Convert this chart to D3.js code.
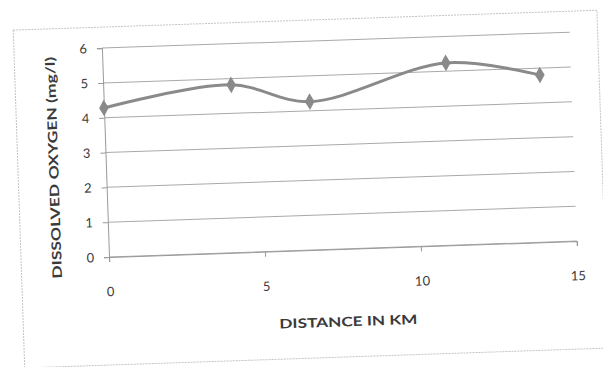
<!DOCTYPE html>
<html>
<head>
<meta charset="utf-8">
<script src="https://cdn.jsdelivr.net/npm/d3@7"></script>
<style>
  html, body { margin: 0; padding: 0; background: #fff; }
  svg { display: block; }
  text { font-family: Lato, "Open Sans", "DejaVu Sans", sans-serif; fill: #3a3a3a; }
</style>
</head>
<body>
<svg id="chart" width="603" height="367"></svg>
<script>
// Dissolved oxygen measured along the river
const distanceKm = [0, 4.1, 6.6, 11, 14];
const dissolvedOxygen = [4.28, 4.82, 4.26, 5.24, 4.8];
const xTicks = [0, 5, 10, 15];
const yTicks = [0, 1, 2, 3, 4, 5, 6];
const xTitle = "DISTANCE IN KM";
const yTitle = "DISSOLVED OXYGEN (mg/l)";

const W = 603, H = 367;
const plot = { left: 109, right: 577, top: 48, bottom: 257 };
const tilt = -1.95; // the sheet sits slightly askew

const svg = d3.select("#chart");
svg.append("rect").attr("width", W).attr("height", H).attr("fill", "#fff");

const g = svg.append("g")
  .attr("transform", `rotate(${tilt}, ${plot.left}, ${plot.bottom})`);

const x = d3.scaleLinear().domain([0, 15]).range([plot.left, plot.right]);
const y = d3.scaleLinear().domain([0, 6]).range([plot.bottom, plot.top]);

// chart frame
g.append("rect")
  .attr("x", 21).attr("y", 27)
  .attr("width", 584).attr("height", 338)
  .attr("fill", "none")
  .attr("stroke", "#c4c4c4")
  .attr("stroke-width", 1)
  .attr("stroke-dasharray", "2,1");

// horizontal gridlines
g.append("g")
  .selectAll("line")
  .data(yTicks)
  .join("line")
  .attr("x1", plot.left).attr("x2", plot.right)
  .attr("y1", d => y(d)).attr("y2", d => y(d))
  .attr("stroke", "#a9a9a9")
  .attr("stroke-width", 1);

// y axis
const yAxis = g.append("g")
  .attr("transform", `translate(${plot.left},0)`)
  .call(d3.axisLeft(y).tickValues(yTicks).tickFormat(d3.format("d")).tickSize(5).tickPadding(10));
yAxis.select(".domain").attr("stroke", "#999");
yAxis.selectAll(".tick line").attr("stroke", "#999");
yAxis.selectAll(".tick text").attr("font-size", 13).attr("fill", "#3a3a3a")
  .style("font-family", "Lato, 'Open Sans', sans-serif");

// x axis
const xAxis = g.append("g")
  .attr("transform", `translate(0,${plot.bottom})`)
  .call(d3.axisBottom(x).tickValues(xTicks).tickFormat(d3.format("d")).tickSize(5).tickPadding(25));
xAxis.select(".domain").attr("stroke", "#999");
xAxis.selectAll(".tick line").attr("stroke", "#999");
xAxis.selectAll(".tick text").attr("font-size", 13).attr("fill", "#3a3a3a")
  .style("font-family", "Lato, 'Open Sans', sans-serif");

// axis titles
g.append("text")
  .attr("x", 346).attr("y", 331)
  .attr("text-anchor", "middle")
  .attr("dominant-baseline", "middle")
  .attr("font-size", 13)
  .attr("font-weight", "bold")
  .attr("textLength", 138)
  .attr("lengthAdjust", "spacingAndGlyphs")
  .text(xTitle);

g.append("text")
  .attr("transform", "translate(58,166) rotate(-90)")
  .attr("text-anchor", "middle")
  .attr("dominant-baseline", "middle")
  .attr("font-size", 13)
  .attr("font-weight", "bold")
  .attr("textLength", 222)
  .attr("lengthAdjust", "spacingAndGlyphs")
  .text(yTitle);

// smoothed series line
const pts = distanceKm.map((d, i) => [d, dissolvedOxygen[i]]);
const line = d3.line()
  .x(d => x(d[0]))
  .y(d => y(d[1]))
  .curve(d3.curveCatmullRom.alpha(0.5));

g.append("path")
  .datum(pts)
  .attr("d", line)
  .attr("fill", "none")
  .attr("stroke", "#8a8a8a")
  .attr("stroke-width", 3)
  .attr("stroke-linejoin", "round");

// diamond markers
g.append("g")
  .selectAll("path")
  .data(pts)
  .join("path")
  .attr("transform", d => `translate(${x(d[0])},${y(d[1])})`)
  .attr("d", d3.symbol().type(d3.symbolDiamond).size(80))
  .attr("fill", "#8a8a8a");
</script>
</body>
</html>
